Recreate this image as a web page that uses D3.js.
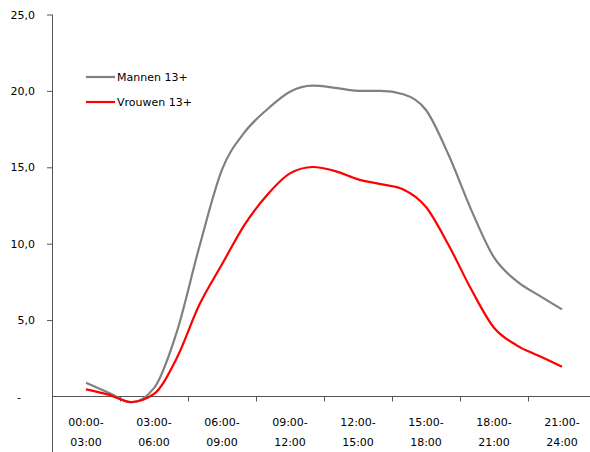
<!DOCTYPE html>
<html><head><meta charset="utf-8">
<script src="https://cdn.jsdelivr.net/npm/d3@7"></script>
<style>
body{margin:0;background:#fff;}
svg{display:block;}
text{font-family:"DejaVu Sans",sans-serif;font-size:11px;fill:#000;}
</style></head>
<body>
<svg id="chart" width="590" height="452"></svg>
<script>
// Categories (3-hour blocks), two-line labels
const categories = ["00:00-03:00","03:00-06:00","06:00-09:00","09:00-12:00","12:00-15:00","15:00-18:00","18:00-21:00","21:00-24:00"];
const labelTop = ["00:00-","03:00-","06:00-","09:00-","12:00-","15:00-","18:00-","21:00-"];
const labelBottom = ["03:00","06:00","09:00","12:00","15:00","18:00","21:00","24:00"];
// hourly points (hour of day, centre of rolling window)
const hours = [1.5,2.5,3.5,4.5,5.5,6.5,7.5,8.5,9.5,10.5,11.5,12.5,13.5,14.5,15.5,16.5,17.5,18.5,19.5,20.5,21.5,22.5];
const mannen = [0.9,0.25,-0.38,0.55,4.2,9.8,14.85,17.3,18.8,19.95,20.34,20.2,20.0,20.0,19.78,18.75,15.8,12.2,9.1,7.55,6.6,5.7];
const vrouwen = [0.47,0.12,-0.36,0.17,2.5,6.0,8.65,11.25,13.2,14.6,15.02,14.75,14.21,13.9,13.55,12.4,9.9,7.0,4.5,3.35,2.65,1.95];
const yTicks = [0,5,10,15,20,25];
const seriesNames = ["Mannen 13+","Vrouwen 13+"];
const seriesColors = ["#808080","#ff0000"];

const svg = d3.select("#chart");
const x0 = 52, bandW = 68;
const xBand = d3.scaleBand().domain(categories).range([x0, x0 + bandW*categories.length]).padding(0);
const xHour = d3.scaleLinear().domain([0,24]).range([x0, x0 + bandW*categories.length]);
const y = d3.scaleLinear().domain([0,25]).range([396.5,14.5]);

// Y axis
const yAxis = svg.append("g").attr("transform",`translate(${x0},0)`)
  .call(d3.axisLeft(y).tickValues(yTicks).tickSize(5).tickPadding(12)
    .tickFormat(d => d===0 ? "-" : d3.format(".1f")(d).replace(".",",")));
yAxis.select(".domain").remove();
yAxis.selectAll("line").attr("stroke","#555");
yAxis.selectAll("text").style("font-size","11px").attr("fill","#000");
yAxis.selectAll(".tick").filter(d=>d===0).select("text").attr("text-anchor","middle").attr("x",-33);
yAxis.selectAll(".tick").filter(d=>d===0).select("line").remove();
svg.append("line").attr("x1",x0+0.5).attr("x2",x0+0.5).attr("y1",y(25)).attr("y2",452).attr("stroke","#555").attr("stroke-width",1);

// X axis
svg.append("line").attr("x1",x0).attr("x2",590).attr("y1",396.5).attr("y2",396.5).attr("stroke","#555");
const bounds = d3.range(1, categories.length+1).map(i => x0 + i*bandW);
svg.selectAll(".xt").data(bounds).enter().append("line")
  .attr("x1",d=>d+0.5).attr("x2",d=>d+0.5).attr("y1",396.5).attr("y2",401.5).attr("stroke","#555");
const xl = svg.append("g");
categories.forEach((c,i)=>{
  const cx = xBand(c) + xBand.bandwidth()/2;
  xl.append("text").attr("x",cx).attr("y",426).attr("text-anchor","middle").text(labelTop[i]);
  xl.append("text").attr("x",cx).attr("y",446).attr("text-anchor","middle").text(labelBottom[i]);
});

// Lines
const line = d3.line().x((d,i)=>xHour(hours[i])).y(d=>y(d)).curve(d3.curveMonotoneX);
[mannen, vrouwen].forEach((s,k)=>{
  svg.append("path").datum(s).attr("d",line).attr("fill","none")
    .attr("stroke",seriesColors[k]).attr("stroke-width",2.2).attr("stroke-linejoin","round");
});

// Legend
const legY = [77, 102];
seriesNames.forEach((n,k)=>{
  svg.append("line").attr("x1",86).attr("x2",115).attr("y1",legY[k]).attr("y2",legY[k])
    .attr("stroke",seriesColors[k]).attr("stroke-width",2.2);
  svg.append("text").attr("x",117).attr("y",legY[k]+4).text(n);
});
</script>
</body></html>
